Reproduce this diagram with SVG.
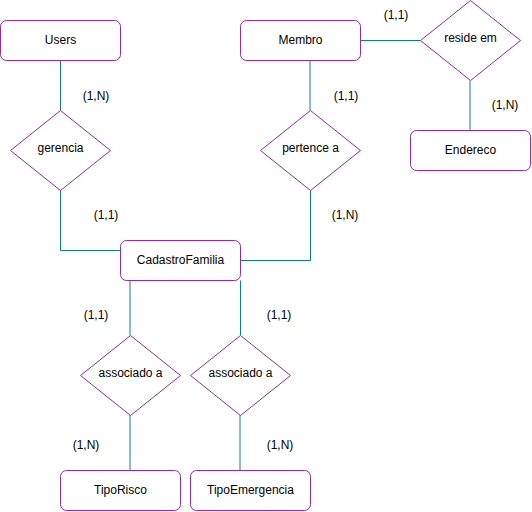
<svg xmlns="http://www.w3.org/2000/svg" width="532" height="512" viewBox="0 0 532 512">
<style>
.ent{fill:#ffffff;stroke:#9529a8;stroke-width:1}
.rel{fill:#ffffff;stroke:#9529a8;stroke-width:1}
.ln{fill:none;stroke:#0e8088;stroke-width:1}
text{font-family:"Liberation Sans",Arial,sans-serif;font-size:12px;fill:#000000;text-anchor:middle;dominant-baseline:central}
</style>
<rect width="532" height="512" fill="#ffffff"/>
<g id="connectors">
<path class="ln" d="M60.5 60.5V110.5"/>
<path class="ln" d="M60.5 190.5V250.5H120.5"/>
<path class="ln" d="M310 60.5V110.5"/>
<path class="ln" d="M310.5 190.5V260.5H240.5"/>
<path class="ln" d="M360.5 40.5H420.5"/>
<path class="ln" d="M470 80.5V130.5"/>
<path class="ln" d="M130 280.5V335"/>
<path class="ln" d="M240.5 280.5V335"/>
<path class="ln" d="M130 415V470.5"/>
<path class="ln" d="M240 415V470.5"/>
</g>
<g id="labels">
<text x="96" y="96">(1,N)</text>
<text x="106" y="215">(1,1)</text>
<text x="346" y="96">(1,1)</text>
<text x="345" y="215">(1,N)</text>
<text x="396" y="15">(1,1)</text>
<text x="505" y="105">(1,N)</text>
<text x="96" y="315">(1,1)</text>
<text x="279" y="315">(1,1)</text>
<text x="86" y="445">(1,N)</text>
<text x="280" y="445">(1,N)</text>
</g>
<g id="Users"><rect class="ent" x="0.5" y="20.5" width="120" height="40" rx="6"/><text x="60.5" y="40">Users</text></g>
<g id="Membro"><rect class="ent" x="240.5" y="20.5" width="120" height="40" rx="6"/><text x="300.5" y="40">Membro</text></g>
<g id="Endereco"><rect class="ent" x="410.5" y="130.5" width="120" height="40" rx="6"/><text x="470.5" y="150">Endereco</text></g>
<g id="CadastroFamilia"><rect class="ent" x="120.5" y="240.5" width="120" height="40" rx="6"/><text x="180.5" y="260">CadastroFamilia</text></g>
<g id="TipoRisco"><rect class="ent" x="60.5" y="470.5" width="120" height="40" rx="6"/><text x="120.5" y="490">TipoRisco</text></g>
<g id="TipoEmergencia"><rect class="ent" x="190.5" y="470.5" width="120" height="40" rx="6"/><text x="250.5" y="490">TipoEmergencia</text></g>
<g id="gerencia"><path class="rel" d="M60.5 110.5L110.5 150.5L60.5 190.5L10.5 150.5Z"/><text x="60.5" y="148">gerencia</text></g>
<g id="pertence_a"><path class="rel" d="M310.5 110.5L360.5 150.5L310.5 190.5L260.5 150.5Z"/><text x="310.5" y="148">pertence a</text></g>
<g id="reside_em"><path class="rel" d="M470.5 0.5L520.5 40.5L470.5 80.5L420.5 40.5Z"/><text x="470.5" y="38">reside em</text></g>
<g id="associado_a_1"><path class="rel" d="M130.5 335.5L180.5 375.5L130.5 415.5L80.5 375.5Z"/><text x="130.5" y="373">associado a</text></g>
<g id="associado_a_2"><path class="rel" d="M240.5 335.5L290.5 375.5L240.5 415.5L190.5 375.5Z"/><text x="240.5" y="373">associado a</text></g>
</svg>
